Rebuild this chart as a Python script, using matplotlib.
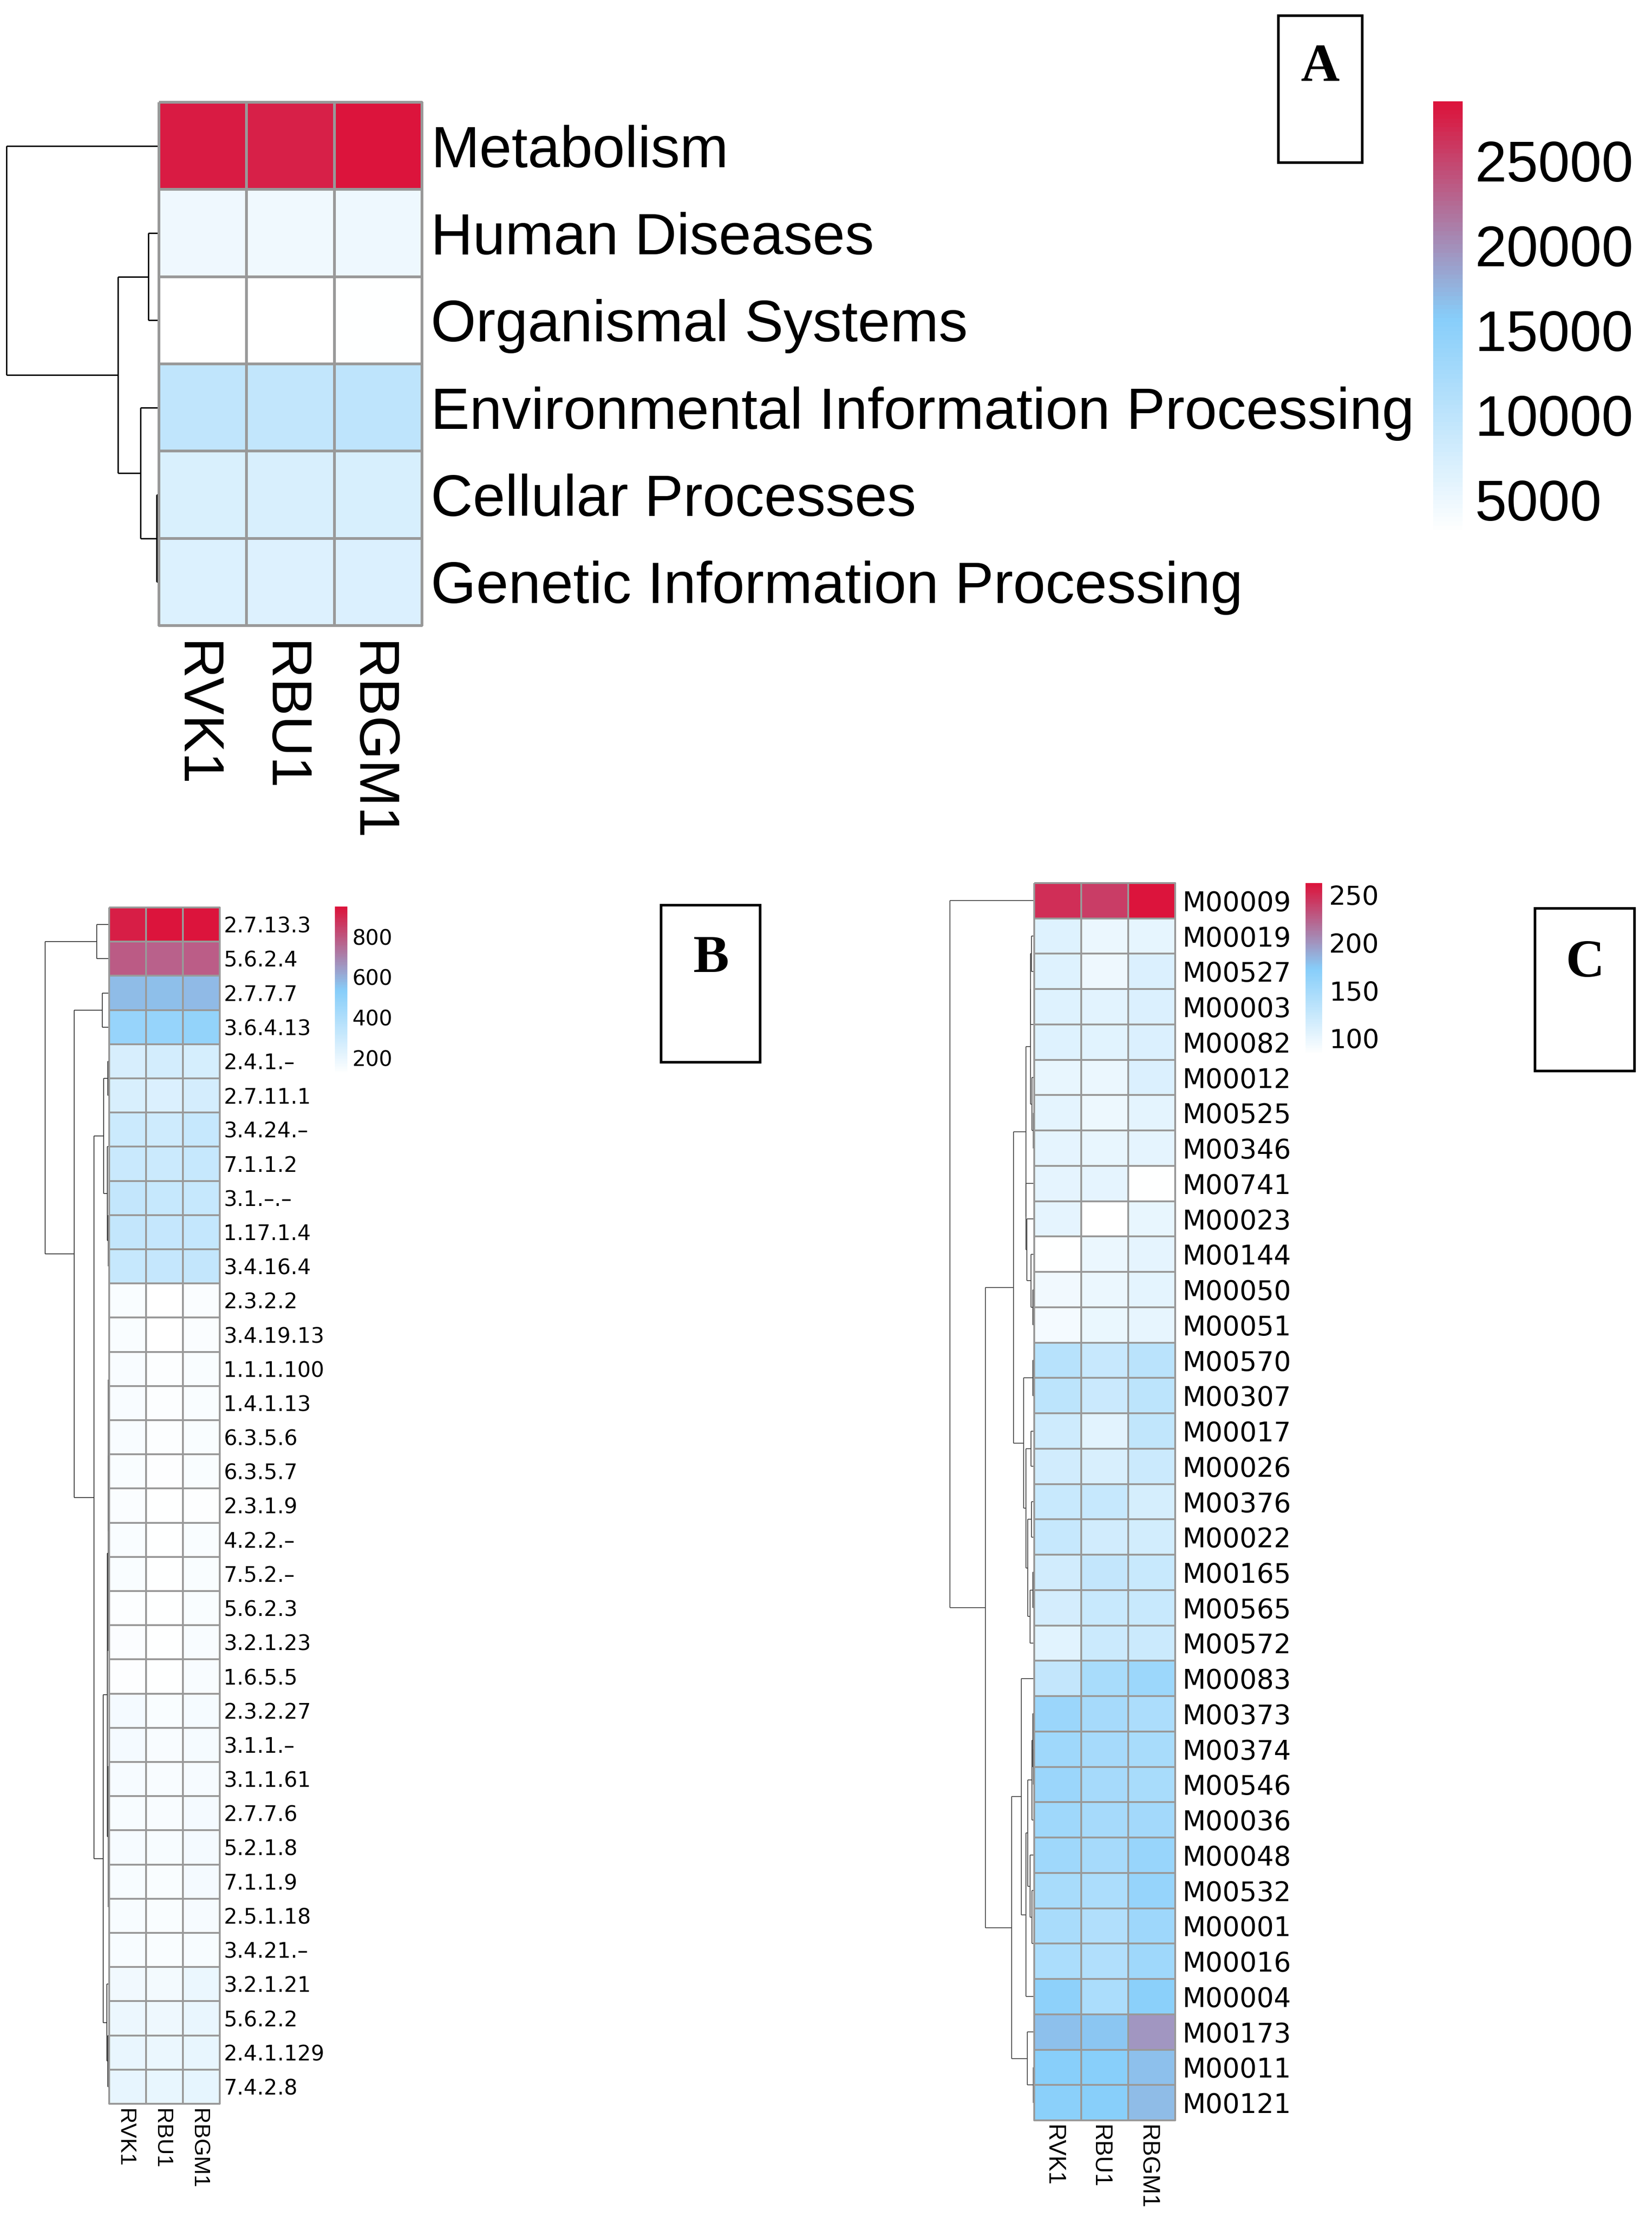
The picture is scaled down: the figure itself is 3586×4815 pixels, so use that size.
import numpy as np
import matplotlib
matplotlib.use('Agg')
import matplotlib.pyplot as plt
import matplotlib.transforms as mtransforms
from matplotlib.colors import LinearSegmentedColormap, Normalize
from matplotlib.patches import Rectangle

W, H = 3586, 4815

samples = ['RVK1', 'RBU1', 'RBGM1']

# panel A - KEGG level 1
a_rows = ['Metabolism', 'Human Diseases', 'Organismal Systems',
          'Environmental Information Processing', 'Cellular Processes',
          'Genetic Information Processing']
a_rvk1 = [28000, 4700, 2960, 9700, 7000, 6700]
a_rbu1 = [27700, 4600, 2950, 9500, 7100, 6600]
a_rbgm1 = [28514, 4800, 3050, 9900, 7200, 6800]
a_ticks = [5000, 10000, 15000, 20000, 25000]

# panel B - EC numbers
b_rows = ['2.7.13.3', '5.6.2.4', '2.7.7.7', '3.6.4.13', '2.4.1.–', '2.7.11.1',
          '3.4.24.–', '7.1.1.2', '3.1.–.–', '1.17.1.4', '3.4.16.4', '2.3.2.2',
          '3.4.19.13', '1.1.1.100', '1.4.1.13', '6.3.5.6', '6.3.5.7', '2.3.1.9',
          '4.2.2.–', '7.5.2.–', '5.6.2.3', '3.2.1.23', '1.6.5.5', '2.3.2.27',
          '3.1.1.–', '3.1.1.61', '2.7.7.6', '5.2.1.8', '7.1.1.9', '2.5.1.18',
          '3.4.21.–', '3.2.1.21', '5.6.2.2', '2.4.1.129', '7.4.2.8']
b_rvk1 = [925, 790, 575, 480, 262, 255, 300, 305, 330, 330, 320, 140, 140, 145,
          145, 145, 142, 138, 142, 140, 130, 135, 128, 160, 160, 155, 152, 155,
          148, 146, 146, 170, 185, 195, 205]
b_rbu1 = [950, 775, 570, 485, 275, 245, 290, 300, 320, 322, 322, 120, 122, 130,
          130, 130, 128, 126, 124, 124, 124, 126, 126, 140, 145, 145, 145, 148,
          142, 140, 140, 165, 180, 190, 198]
b_rbgm1 = [948, 785, 580, 495, 268, 270, 320, 320, 318, 325, 330, 138, 138, 140,
           140, 142, 140, 128, 140, 140, 142, 145, 145, 158, 158, 155, 160, 162,
           160, 155, 152, 190, 195, 200, 208]
b_ticks = [200, 400, 600, 800]

# panel C - KEGG modules
c_rows = ['M00009', 'M00019', 'M00527', 'M00003', 'M00082', 'M00012', 'M00525',
          'M00346', 'M00741', 'M00023', 'M00144', 'M00050', 'M00051', 'M00570',
          'M00307', 'M00017', 'M00026', 'M00376', 'M00022', 'M00165', 'M00565',
          'M00572', 'M00083', 'M00373', 'M00374', 'M00546', 'M00036', 'M00048',
          'M00532', 'M00001', 'M00016', 'M00004', 'M00173', 'M00011', 'M00121']
c_rvk1 = [250, 108, 108, 108, 108, 100, 104, 103, 103, 103, 84, 94, 92, 137, 133,
          120, 118, 124, 126, 118, 116, 106, 128, 158, 155, 158, 155, 155, 148,
          147, 146, 168, 180, 172, 170]
c_rbu1 = [243, 98, 96, 105, 106, 98, 97, 100, 103, 83, 98, 98, 99, 125, 123, 105,
          112, 126, 118, 128, 124, 122, 148, 150, 150, 150, 150, 150, 145, 142,
          142, 146, 177, 172, 172]
c_rbgm1 = [263, 102, 110, 110, 110, 110, 104, 103, 84, 100, 103, 104, 101, 135,
           133, 130, 122, 115, 117, 124, 124, 122, 157, 145, 148, 148, 152, 160,
           162, 156, 155, 170, 200, 180, 182]
c_ticks = [100, 150, 200, 250]

cmap = LinearSegmentedColormap.from_list('wbr', ['#FFFFFF', '#87CEFA', '#DC143C'])

fig = plt.figure(figsize=(W / 100, H / 100), dpi=100)


def px_axes(x0, y0, x1, y1):
    return fig.add_axes([x0 / W, 1 - y1 / H, (x1 - x0) / W, (y1 - y0) / H])


def cluster_rows(vals):
    # complete linkage, merging neighbours only so the row order stays as shown
    segs = []
    clusters = [([i], i + 0.5, 0.0) for i in range(len(vals))]
    while len(clusters) > 1:
        best = None
        for k in range(len(clusters) - 1):
            d = max(np.linalg.norm(vals[i] - vals[j])
                    for i in clusters[k][0] for j in clusters[k + 1][0])
            if best is None or d < best[0]:
                best = (d, k)
        d, k = best
        (ma, ya, ha), (mb, yb, hb) = clusters[k], clusters[k + 1]
        h = max(d, ha, hb)
        segs += [(ha, ya, h, ya), (hb, yb, h, yb), (h, ya, h, yb)]
        clusters[k:k + 2] = [(ma + mb, (ya + yb) / 2, h)]
    return segs, clusters[0][2]


def draw_dendro(ax, vals, color, lw):
    segs, top = cluster_rows(vals)
    for x0, y0, x1, y1 in segs:
        ax.plot([x0, x1], [y0, y1], color=color, lw=lw, clip_on=False,
                solid_capstyle='butt')
    ax.set_xlim(top, 0)
    ax.set_ylim(len(vals), 0)
    ax.axis('off')


def draw_heat(ax, vals, rows, lw, fs, fam, rpad, cfs, cpad, cshift):
    norm = Normalize(vals.min(), vals.max())
    mesh = ax.pcolormesh(vals, cmap=cmap, norm=norm, edgecolors='#999999',
                         linewidth=lw)
    mesh.set_clip_on(False)
    ax.set_xlim(0, vals.shape[1])
    ax.set_ylim(len(rows), 0)
    ax.yaxis.tick_right()
    ax.set_yticks(np.arange(len(rows)) + 0.5)
    ax.set_yticklabels(rows, fontsize=fs, family=fam)
    ax.set_xticks(np.arange(3) + 0.5)
    ax.set_xticklabels(samples, rotation=270, fontsize=cfs,
                       family='Liberation Sans', va='top', ha='center')
    ax.tick_params(axis='y', length=0, pad=rpad)
    ax.tick_params(axis='x', length=0, pad=cpad)
    # rotated labels sit a little right of the column centre, nudge them back
    off = mtransforms.ScaledTranslation(-cshift / 100, 0, fig.dpi_scale_trans)
    for lab in ax.get_xticklabels():
        lab.set_transform(lab.get_transform() + off)
    for s in ax.spines.values():
        s.set_visible(False)


def draw_cbar(ax, vals, ticks, fs, fam, pad):
    vmin, vmax = vals.min(), vals.max()
    grad = np.linspace(vmin, vmax, 100)[:, None]
    ax.imshow(grad, aspect='auto', cmap=cmap, norm=Normalize(vmin, vmax),
              origin='lower', extent=[0, 1, vmin, vmax])
    ax.set_xticks([])
    ax.yaxis.tick_right()
    ax.set_yticks(ticks)
    ax.set_yticklabels([str(t) for t in ticks], fontsize=fs, family=fam)
    ax.tick_params(axis='y', length=0, pad=pad)
    for s in ax.spines.values():
        s.set_visible(False)


def panel_box(x0, y0, x1, y1, letter, ly):
    fig.add_artist(Rectangle((x0 / W, 1 - y1 / H), (x1 - x0) / W, (y1 - y0) / H,
                             transform=fig.transFigure, fill=False,
                             edgecolor='black', lw=4))
    fig.text((x0 + x1) / 2 / W, 1 - ly / H, letter, ha='center', va='center',
             fontsize=84, fontweight='bold', family='Liberation Serif')


a_vals = np.array([a_rvk1, a_rbu1, a_rbgm1], dtype=float).T
b_vals = np.array([b_rvk1, b_rbu1, b_rbgm1], dtype=float).T
c_vals = np.array([c_rvk1, c_rbu1, c_rbgm1], dtype=float).T

# A
draw_dendro(px_axes(14, 222, 345, 1358), a_vals, 'black', 2.2)
draw_heat(px_axes(345, 222, 916, 1358), a_vals, a_rows, 3, 91, 'Liberation Sans',
          14, 88, 25, 18)
draw_cbar(px_axes(3111, 220, 3175, 1160), a_vals, a_ticks, 89, 'Liberation Sans', 19)
panel_box(2775, 34, 2957, 353, 'A', 148)

# B
draw_dendro(px_axes(98, 1970, 237, 4567), b_vals, '#333333', 1.3)
draw_heat(px_axes(237, 1970, 477, 4567), b_vals, b_rows, 1.5, 33, 'DejaVu Sans',
          6, 35, 8, 6)
draw_cbar(px_axes(727, 1968, 754, 2332), b_vals, b_ticks, 33, 'DejaVu Sans', 8)
panel_box(1435, 1965, 1650, 2306, 'B', 2082)

# C
draw_dendro(px_axes(2062, 1917, 2245, 4603), c_vals, '#444444', 1.3)
draw_heat(px_axes(2245, 1917, 2551, 4603), c_vals, c_rows, 1.5, 42, 'DejaVu Sans',
          11, 37, 7, 10)
draw_cbar(px_axes(2834, 1917, 2870, 2290), c_vals, c_ticks, 41, 'DejaVu Sans', 11)
panel_box(3332, 1972, 3548, 2325, 'C', 2092)

fig.savefig('out.png', dpi=100, facecolor='white')
